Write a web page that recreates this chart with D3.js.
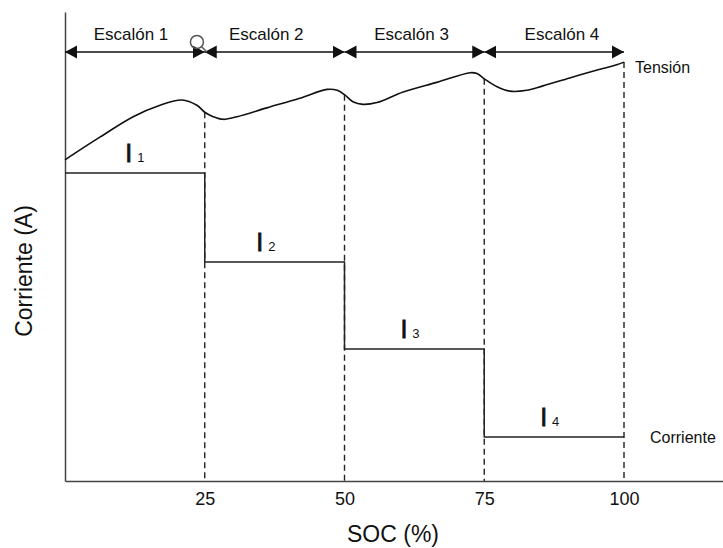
<!DOCTYPE html>
<html>
<head>
<meta charset="utf-8">
<script src="https://cdn.jsdelivr.net/npm/d3@7/dist/d3.min.js"></script>
<style>
  html, body { margin: 0; padding: 0; background: #fff; }
  svg { display: block; font-family: "Liberation Sans", Arial, sans-serif; }
</style>
</head>
<body>
<div id="chart"></div>
<script>
// charge steps (SOC %)
const stepEdges = [0, 25, 50, 75, 100];
const stepNames = ["Escalón 1", "Escalón 2", "Escalón 3", "Escalón 4"];
const stepNameSoc = [11.8, 36, 62, 88.9];

// current level per step (arbitrary units)
const currentLevels = [3.5, 2.49, 1.5, 0.5];
const currentSubs = ["1", "2", "3", "4"];
const currentLabelSoc = [10.8, 34.2, 60, 85];

// voltage curve
const tensionSoc = [0, 6.3, 12.2, 17, 20.9, 23.6, 25, 26.5, 28.3, 30.8, 36.1, 42, 46.9, 48.7, 50,
  51.5, 53.3, 55.8, 60.5, 66.5, 72.5, 73.7, 75, 77.3, 79.6, 82.6, 85.5, 90.3, 95.2, 98.7, 100];
const tensionVal = [3.65, 3.91, 4.14, 4.27, 4.33, 4.27, 4.19, 4.14, 4.11, 4.14, 4.24, 4.35, 4.45, 4.44, 4.39,
  4.31, 4.28, 4.30, 4.42, 4.53, 4.64, 4.63, 4.57, 4.48, 4.43, 4.44, 4.49, 4.58, 4.67, 4.73, 4.76];

const xTicks = [25, 50, 75, 100];

const W = 723, H = 548;
const margin = { left: 65, top: 12, bottom: 481 };
const arrowY = 52;

const svg = d3.select("#chart").append("svg")
  .attr("width", W)
  .attr("height", H);

const x = d3.scaleLinear().domain([0, (W - margin.left) / 5.59]).range([margin.left, W]);
const y = d3.scaleLinear().domain([0, (margin.bottom - margin.top) / 88]).range([margin.bottom, margin.top]);

const tension = tensionSoc.map((s, i) => ({ soc: s, v: tensionVal[i] }));
const tensionAt = s => {
  const i = tensionSoc.findIndex(d => d >= s);
  if (tensionSoc[i] === s) return tensionVal[i];
  const t = (s - tensionSoc[i - 1]) / (tensionSoc[i] - tensionSoc[i - 1]);
  return tensionVal[i - 1] + t * (tensionVal[i] - tensionVal[i - 1]);
};

// arrow heads
const defs = svg.append("defs");
defs.append("marker")
  .attr("id", "head")
  .attr("markerUnits", "userSpaceOnUse")
  .attr("viewBox", "0 -7 12 14")
  .attr("refX", 12).attr("refY", 0)
  .attr("markerWidth", 12).attr("markerHeight", 14)
  .attr("orient", "auto-start-reverse")
  .append("path")
    .attr("d", "M0,-6.5L12,0L0,6.5Z")
    .attr("fill", "#111");

// dashed guides from the voltage curve down to the axis
svg.append("g")
  .selectAll("line")
  .data(stepEdges.slice(1))
  .enter()
  .append("line")
    .attr("x1", d => x(d)).attr("x2", d => x(d))
    .attr("y1", d => y(tensionAt(d))).attr("y2", y(0))
    .attr("stroke", "#222")
    .attr("stroke-width", 1.4)
    .attr("stroke-dasharray", "6,4");

// axes
svg.append("g")
  .attr("transform", `translate(0, ${margin.bottom})`)
  .call(d3.axisBottom(x).tickValues(xTicks).tickSize(0).tickPadding(11))
  .call(g => g.select(".domain").attr("stroke", "#444").attr("stroke-width", 1.5))
  .call(g => g.selectAll("text")
    .attr("font-size", 18)
    .attr("fill", "#111")
    .attr("font-family", "Liberation Sans, Arial, sans-serif"));

svg.append("g")
  .attr("transform", `translate(${margin.left}, 0)`)
  .call(d3.axisLeft(y).tickValues([]).tickSizeOuter(0))
  .call(g => g.select(".domain").attr("stroke", "#444").attr("stroke-width", 1.5));

svg.append("text")
  .attr("x", 393).attr("y", 542)
  .attr("text-anchor", "middle")
  .attr("font-size", 23)
  .attr("fill", "#111")
  .text("SOC (%)");

svg.append("text")
  .attr("transform", "translate(32, 271) rotate(-90)")
  .attr("text-anchor", "middle")
  .attr("font-size", 23)
  .attr("fill", "#111")
  .text("Corriente (A)");

// current steps
const stepPts = currentLevels.map((c, i) => [stepEdges[i], c]);
stepPts.push([100, currentLevels[currentLevels.length - 1]]);

svg.append("path")
  .datum(stepPts)
  .attr("fill", "none")
  .attr("stroke", "#222")
  .attr("stroke-width", 1.5)
  .attr("d", d3.line().x(d => x(d[0])).y(d => y(d[1])).curve(d3.curveStepAfter));

const iLabels = svg.append("g")
  .selectAll("text")
  .data(currentLevels)
  .enter()
  .append("text")
    .attr("x", (d, i) => x(currentLabelSoc[i]))
    .attr("y", d => y(d) - 11)
    .attr("fill", "#111")
    .attr("font-size", 25);
iLabels.append("tspan")
  .attr("stroke", "#111")
  .attr("stroke-width", 0.8)
  .text("I");
iLabels.append("tspan")
  .attr("dx", 5)
  .attr("font-size", 13)
  .text((d, i) => currentSubs[i]);

svg.append("text")
  .attr("x", 650).attr("y", y(currentLevels[3]) + 6)
  .attr("font-size", 16)
  .attr("fill", "#111")
  .text("Corriente");

// voltage curve
svg.append("path")
  .datum(tension)
  .attr("fill", "none")
  .attr("stroke", "#111")
  .attr("stroke-width", 1.6)
  .attr("d", d3.line().x(d => x(d.soc)).y(d => y(d.v)).curve(d3.curveCatmullRom));

svg.append("text")
  .attr("x", 635).attr("y", 73)
  .attr("font-size", 16)
  .attr("fill", "#111")
  .text("Tensión");

// step arrows and names
const steps = svg.append("g");
steps.selectAll("line")
  .data(stepNames)
  .enter()
  .append("line")
    .attr("x1", (d, i) => x(stepEdges[i]))
    .attr("x2", (d, i) => x(stepEdges[i + 1]))
    .attr("y1", arrowY).attr("y2", arrowY)
    .attr("stroke", "#111")
    .attr("stroke-width", 1.5)
    .attr("marker-start", "url(#head)")
    .attr("marker-end", "url(#head)");

steps.selectAll("text")
  .data(stepNames)
  .enter()
  .append("text")
    .attr("x", (d, i) => x(stepNameSoc[i]))
    .attr("y", arrowY - 12)
    .attr("text-anchor", "middle")
    .attr("font-size", 17)
    .attr("fill", "#111")
    .text(d => d);

// the little magnifier cursor left in the picture
const mag = svg.append("g").attr("stroke", "#555").attr("fill", "none").attr("stroke-width", 1.5);
mag.append("circle").attr("cx", x(23.6)).attr("cy", 42).attr("r", 6.5);
mag.append("line").attr("x1", x(23.6) + 5).attr("y1", 47).attr("x2", x(23.6) + 10).attr("y2", 52);
</script>
</body>
</html>
